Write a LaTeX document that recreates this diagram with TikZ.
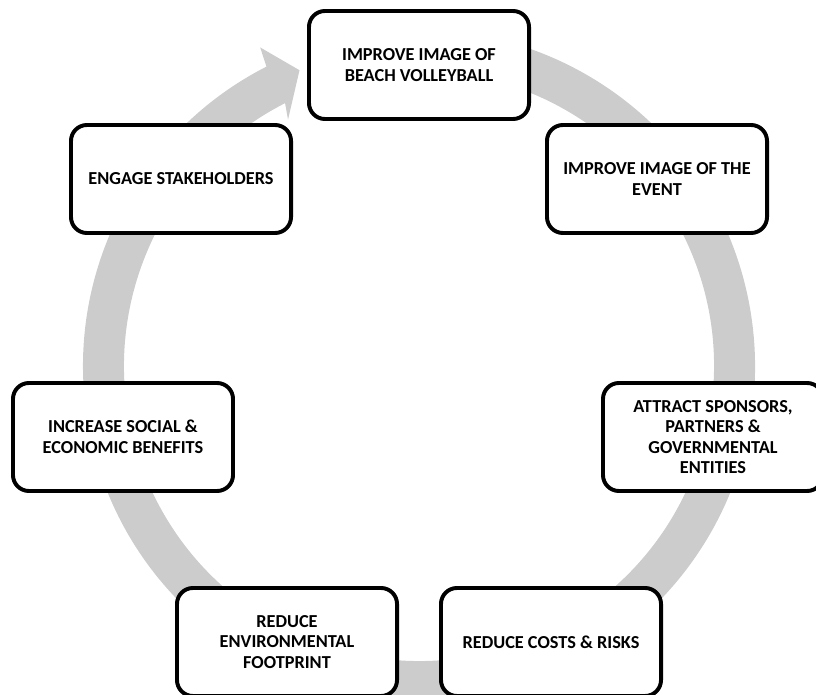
\documentclass[tikz,border=0pt]{standalone}
\usepackage{fontspec}
\setmainfont{Carlito}
\definecolor{ringgray}{RGB}{204,204,204}

\begin{document}
\begin{tikzpicture}
[x=0.025cm, y=-0.025cm,
 goal/.style={draw, line width=2.8pt, rectangle, rounded corners=0.4cm, fill=white,
   minimum width=5.5cm, minimum height=2.7cm, inner sep=0pt, align=center,
   font={\bfseries\fontsize{13}{14.6}\selectfont}},
 ring/.style={fill=ringgray, draw=none}]
\useasboundingbox (0,0) rectangle (816,695);
\clip (0,0) rectangle (816,695);

% the grey cycle arrow
\begin{scope}[shift={(419,366)}]
\fill[ring] (-100:336) arc[start angle=-100, end angle=243, radius=336]
  -- (243.5:356) -- (248:319) -- (242:279) -- (243:295)
  arc[start angle=243, end angle=-100, radius=295] -- cycle;
\end{scope}

\node (n1) at (419,65) [goal] {IMPROVE IMAGE OF\\BEACH VOLLEYBALL};
\node (n2) at (657,179) [goal] {IMPROVE IMAGE OF THE\\EVENT};
\node (n3) at (713,437) [goal] {ATTRACT SPONSORS,\\PARTNERS \&\\GOVERNMENTAL\\ENTITIES};
\node (n4) at (551,642) [goal] {REDUCE COSTS \& RISKS};
\node (n5) at (287,642) [goal] {REDUCE\\ENVIRONMENTAL\\FOOTPRINT};
\node (n6) at (123,437) [goal] {INCREASE SOCIAL \&\\ECONOMIC BENEFITS};
\node (n7) at (181,179) [goal] {ENGAGE STAKEHOLDERS};
\end{tikzpicture}
\end{document}
